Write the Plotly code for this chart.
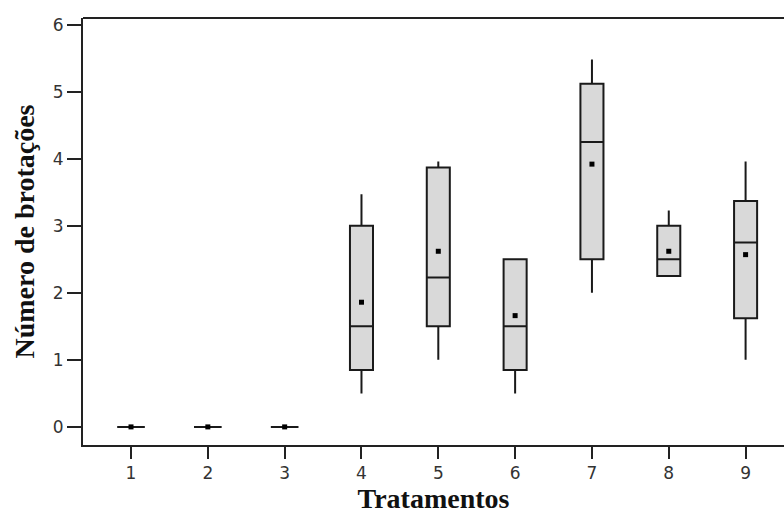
import plotly.graph_objects as go

tratamentos = [1, 2, 3, 4, 5, 6, 7, 8, 9]
minimo  = [0, 0, 0, 0.5, 1.0, 0.5, 2.0, 2.25, 1.0]
q1      = [0, 0, 0, 0.85, 1.5, 0.85, 2.5, 2.25, 1.62]
mediana = [0, 0, 0, 1.5, 2.23, 1.5, 4.25, 2.5, 2.75]
q3      = [0, 0, 0, 3.0, 3.87, 2.5, 5.12, 3.0, 3.37]
maximo  = [0, 0, 0, 3.47, 3.96, 2.5, 5.48, 3.23, 3.96]
media   = [0, 0, 0, 1.86, 2.62, 1.66, 3.92, 2.62, 2.57]
larguras = [0.36, 0.36, 0.36, 0.3, 0.3, 0.3, 0.3, 0.3, 0.3]
y_ticks = [0, 1, 2, 3, 4, 5, 6]

fig = go.Figure()
for i, t in enumerate(tratamentos):
    fig.add_trace(go.Box(
        x=[t], q1=[q1[i]], median=[mediana[i]], q3=[q3[i]],
        lowerfence=[minimo[i]], upperfence=[maximo[i]],
        width=larguras[i], whiskerwidth=0,
        fillcolor="#d9d9d9", line=dict(color="#1a1a1a", width=2),
        boxpoints=False, showlegend=False, hoverinfo="skip",
    ))

fig.add_trace(go.Scatter(
    x=tratamentos, y=media, mode="markers",
    marker=dict(symbol="square", size=5, color="black"),
    showlegend=False,
))

fig.add_shape(type="line", xref="paper", yref="paper", x0=0, x1=1, y0=1, y1=1,
              line=dict(color="#222222", width=2))

titulo_fonte = dict(family="Liberation Serif, Times New Roman", size=28,
                    color="#111111", weight="bold")
tick_fonte = dict(family="DejaVu Sans, Arial", size=17, color="#333333")

fig.update_layout(
    width=784, height=515,
    margin=dict(l=83, r=0, t=18, b=70),
    paper_bgcolor="white", plot_bgcolor="white",
    font=dict(family="DejaVu Sans, Arial", size=17, color="#333333"),
    xaxis=dict(
        range=[0.375, 9.5], tickmode="array", tickvals=tratamentos,
        ticktext=[str(t) for t in tratamentos], tickfont=tick_fonte,
        showgrid=False, zeroline=False, showline=True, linecolor="#222222", linewidth=2,
        ticks="outside", ticklen=12, tickwidth=2, tickcolor="#222222",
        title=dict(text="Tratamentos", standoff=6, font=titulo_fonte),
    ),
    yaxis=dict(
        range=[-0.27, 6.1], tickmode="array", tickvals=y_ticks, tickfont=tick_fonte,
        showgrid=False, zeroline=False, showline=True, linecolor="#222222", linewidth=2,
        ticks="outside", ticklen=14, tickwidth=2, tickcolor="#222222",
        title=dict(text="Número de brotações", standoff=10, font=titulo_fonte),
    ),
)

fig.write_html("out.html")
